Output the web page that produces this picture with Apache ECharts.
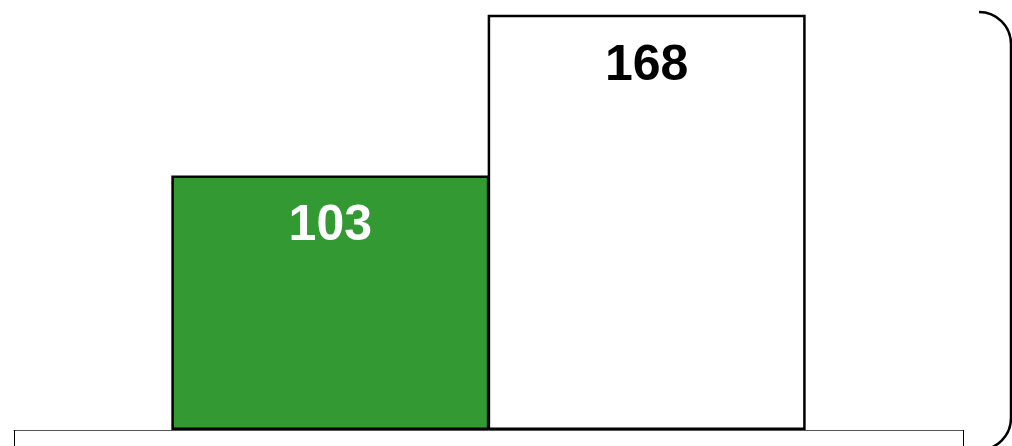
<!DOCTYPE html>
<html>
<head>
<meta charset="utf-8">
<script src="https://cdn.jsdelivr.net/npm/echarts@6/dist/echarts.min.js"></script>
<style>
  html, body { margin: 0; padding: 0; background: #fff; }
  #chart { width: 1012px; height: 446px; }
</style>
</head>
<body>
<div id="chart"></div>
<script>
// slots on the axis: the two bars sit on the middle two points
var categories = ["", "A", "B", ""];
var values = [null, 103, 168, null];
var barColors = ["#339933", "#339933", "#ffffff", "#ffffff"];
var labelColors = ["#fff", "#fff", "#000", "#000"];

var myChart = echarts.init(document.getElementById("chart"));

var bracketStyle = { fill: null, stroke: "#000", lineWidth: 2.5 };

var option = {
  animation: false,
  grid: { left: 14, right: 49, top: 0, bottom: 16 },
  xAxis: {
    type: "category",
    data: categories,
    boundaryGap: false,
    axisLine: { show: true, lineStyle: { color: "#555", width: 1 } },
    axisTick: {
      show: true,
      length: 20,
      interval: function (i) { return i === 0 || i === categories.length - 1; },
      lineStyle: { color: "#000", width: 1 }
    },
    axisLabel: { show: false },
    splitLine: { show: false }
  },
  yAxis: {
    type: "value",
    min: 0,
    max: 174,
    show: false,
    splitLine: { show: false }
  },
  series: [
    {
      type: "bar",
      barWidth: 318,
      data: values.map(function (v, i) {
        return {
          value: v,
          itemStyle: { color: barColors[i], borderColor: "#000", borderWidth: 2.5 },
          label: { color: labelColors[i] }
        };
      }),
      label: {
        show: true,
        position: "insideTop",
        distance: 26,
        fontFamily: "Liberation Sans, Arial, sans-serif",
        fontWeight: "bold",
        fontSize: 50
      }
    }
  ],
  graphic: [
    {
      type: "arc",
      shape: { cx: 979, cy: 44, r: 32, startAngle: -Math.PI / 2, endAngle: 0, clockwise: true },
      style: bracketStyle
    },
    {
      type: "line",
      shape: { x1: 1011, y1: 44, x2: 1011, y2: 418 },
      style: bracketStyle
    },
    {
      type: "arc",
      shape: { cx: 979, cy: 418, r: 32, startAngle: 0, endAngle: Math.PI / 2, clockwise: true },
      style: bracketStyle
    }
  ]
};

myChart.setOption(option);
</script>
</body>
</html>
